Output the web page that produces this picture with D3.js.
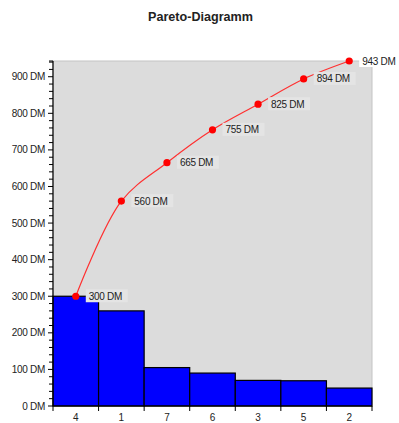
<!DOCTYPE html>
<html>
<head>
<meta charset="utf-8">
<script src="https://cdn.jsdelivr.net/npm/d3@7"></script>
<style>
  html,body{margin:0;padding:0;background:#fff;overflow:hidden;}
  svg{display:block;font-family:"Liberation Sans",Arial,sans-serif;}
</style>
</head>
<body>
<div id="chart"></div>
<script>
const categories=["4","1","7","6","3","5","2"];
const values=[300,260,105,90,70,69,49];
const cumulative=[300,560,665,755,825,894,943];
const yMajorTicks=[0,100,200,300,400,500,600,700,800,900];

(function(){
  const W=399,H=423;
  const m={top:61,right:27,bottom:17,left:53};
  const iw=W-m.left-m.right, ih=H-m.top-m.bottom;
  const svg=d3.select("#chart").append("svg").attr("width",W).attr("height",H);

  svg.append("text")
    .attr("x",200.5).attr("y",21)
    .attr("text-anchor","middle")
    .attr("font-size",12.6).attr("font-weight",700).attr("fill","#222")
    .text("Pareto-Diagramm");

  const g=svg.append("g").attr("transform",`translate(${m.left},${m.top})`);
  const x=d3.scaleBand().domain(categories).range([0,iw]).padding(0);
  const y=d3.scaleLinear().domain([0,d3.max(cumulative)]).range([ih,0]);

  // plot background
  g.append("rect").attr("x",0).attr("y",0).attr("width",iw).attr("height",ih)
    .attr("fill","#dcdcdc").attr("stroke","#c4c4c4").attr("stroke-width",1);

  const data=categories.map((c,i)=>({cat:c,val:values[i],cum:cumulative[i]}));

  g.selectAll(".bar").data(data).join("rect")
    .attr("x",d=>x(d.cat)).attr("y",d=>y(d.val))
    .attr("width",x.bandwidth()).attr("height",d=>ih-y(d.val))
    .attr("fill","#0000ff").attr("stroke","#000").attr("stroke-width",1.2);

  // y axis: minor ticks every 20, labels on hundreds
  const minor=d3.range(0,d3.max(cumulative)+1,20);
  const ya=g.append("g");
  ya.append("line").attr("x1",0).attr("x2",0).attr("y1",0).attr("y2",ih)
    .attr("stroke","#000").attr("stroke-width",1.2);
  ya.selectAll(".mt").data(minor).join("line")
    .attr("x1",d=>yMajorTicks.includes(d)?-5:-4).attr("x2",0)
    .attr("y1",d=>y(d)).attr("y2",d=>y(d))
    .attr("stroke","#000").attr("stroke-width",1);
  ya.append("line").attr("x1",-4).attr("x2",0).attr("y1",0).attr("y2",0).attr("stroke","#000");
  ya.selectAll(".lbl").data(yMajorTicks).join("text")
    .attr("x",-8).attr("y",d=>y(d)+3.5)
    .attr("text-anchor","end").attr("font-size",10).attr("fill","#222")
    .attr("letter-spacing","-0.3")
    .text(d=>d+" DM");

  // x axis
  const xa=g.append("g").attr("transform",`translate(0,${ih})`);
  xa.append("line").attr("x1",0).attr("x2",iw).attr("stroke","#000").attr("stroke-width",1.2);
  const bounds=categories.map(c=>x(c)).concat([iw]);
  xa.selectAll(".xt").data(bounds).join("line")
    .attr("x1",d=>d).attr("x2",d=>d).attr("y1",0).attr("y2",5)
    .attr("stroke","#000").attr("stroke-width",1);
  xa.selectAll(".xl").data(categories).join("text")
    .attr("x",d=>x(d)+x.bandwidth()/2).attr("y",15)
    .attr("text-anchor","middle").attr("font-size",10).attr("fill","#222")
    .text(d=>d);

  // cumulative line
  const cx=d=>x(d.cat)+x.bandwidth()/2;
  const line=d3.line().x(cx).y(d=>y(d.cum)).curve(d3.curveCatmullRom);
  g.append("path").datum(data).attr("d",line)
    .attr("fill","none").attr("stroke","#ff3030").attr("stroke-width",1.2);
  g.selectAll(".pt").data(data).join("circle")
    .attr("cx",cx).attr("cy",d=>y(d.cum)).attr("r",3.6).attr("fill","#ff0000");

  // value labels with light box
  const lab=g.selectAll(".vl").data(data).join("g")
    .attr("transform",d=>`translate(${cx(d)+13},${y(d.cum)})`);
  lab.append("rect")
    .attr("x",-3).attr("y",-7).attr("width",42).attr("height",13)
    .attr("fill",(d,i)=>i===data.length-1?"#fff":"#e4e4e4");
  lab.append("text")
    .attr("x",0).attr("y",3.5)
    .attr("font-size",10).attr("fill","#222").attr("letter-spacing","-0.3")
    .text(d=>d.cum+" DM");
})();
</script>
</body>
</html>
